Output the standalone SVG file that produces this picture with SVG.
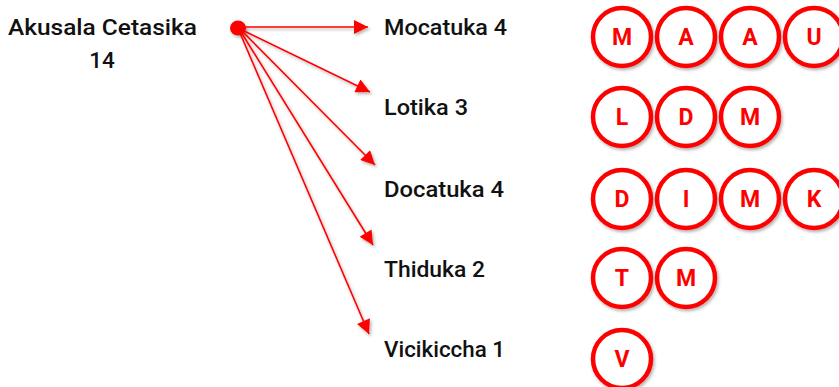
<svg xmlns="http://www.w3.org/2000/svg" width="839" height="387" viewBox="0 0 839 387">
  <style>
    .lbl { font-family: Roboto, "Liberation Sans", sans-serif; font-size: 22.5px; font-weight: 500; fill: #111; }
    .ring { fill: #fff; stroke: #ff0000; stroke-width: 4.5; filter: url(#shadow); }
    .ch { font-family: Roboto, "Liberation Sans", sans-serif; font-size: 23px; font-weight: bold; fill: #ff0000; text-anchor: middle; }
    .edge { stroke: #ff0000; stroke-width: 1.6; fill: none; marker-end: url(#head); }
  </style>
  <defs>
    <filter id="shadow" x="-20%" y="-20%" width="150%" height="150%">
      <feDropShadow dx="1.5" dy="2" stdDeviation="1.5" flood-color="#000" flood-opacity="0.3"/>
    </filter>
    <marker id="head" viewBox="0 0 10 10" refX="10" refY="5" markerWidth="16" markerHeight="14" markerUnits="userSpaceOnUse" orient="auto">
      <path d="M0,0 L10,5 L0,10 Z" fill="#ff0000"/>
    </marker>
  </defs>

  <g id="root">
    <text class="lbl" x="8" y="35" textLength="189" lengthAdjust="spacingAndGlyphs">Akusala Cetasika</text>
    <text class="lbl" x="102" y="68" text-anchor="middle">14</text>
    <ellipse cx="238" cy="28" rx="8" ry="7.5" fill="#ff0000" filter="url(#shadow)"/>
  </g>

  <g id="connectors" filter="url(#shadow)">
    <line class="edge" x1="240" y1="27" x2="368" y2="27"/>
    <line class="edge" x1="242" y1="30" x2="370" y2="92"/>
    <line class="edge" x1="242" y1="31" x2="375" y2="165"/>
    <line class="edge" x1="241" y1="32" x2="373" y2="245"/>
    <line class="edge" x1="240" y1="33" x2="369" y2="334"/>
  </g>

  <g id="mocatuka">
    <text class="lbl" x="384" y="34.5" textLength="123" lengthAdjust="spacingAndGlyphs">Mocatuka 4</text>
    <circle class="ring" cx="622" cy="37" r="29"/><text class="ch" x="622" y="45">M</text>
    <circle class="ring" cx="686" cy="37" r="29"/><text class="ch" x="686" y="45">A</text>
    <circle class="ring" cx="750" cy="37" r="29"/><text class="ch" x="750" y="45">A</text>
    <circle class="ring" cx="814" cy="37" r="29"/><text class="ch" x="814" y="45">U</text>
  </g>

  <g id="lotika">
    <text class="lbl" x="384" y="115" textLength="84" lengthAdjust="spacingAndGlyphs">Lotika 3</text>
    <circle class="ring" cx="622" cy="117" r="29"/><text class="ch" x="622" y="125">L</text>
    <circle class="ring" cx="686" cy="117" r="29"/><text class="ch" x="686" y="125">D</text>
    <circle class="ring" cx="750" cy="117" r="29"/><text class="ch" x="750" y="125">M</text>
  </g>

  <g id="docatuka">
    <text class="lbl" x="384" y="196.5" textLength="120" lengthAdjust="spacingAndGlyphs">Docatuka 4</text>
    <circle class="ring" cx="622" cy="199" r="29"/><text class="ch" x="622" y="207">D</text>
    <circle class="ring" cx="686" cy="199" r="29"/><text class="ch" x="686" y="207">I</text>
    <circle class="ring" cx="750" cy="199" r="29"/><text class="ch" x="750" y="207">M</text>
    <circle class="ring" cx="814" cy="199" r="29"/><text class="ch" x="814" y="207">K</text>
  </g>

  <g id="thiduka">
    <text class="lbl" x="384" y="276.5" textLength="101" lengthAdjust="spacingAndGlyphs">Thiduka 2</text>
    <circle class="ring" cx="622" cy="278" r="29"/><text class="ch" x="622" y="286">T</text>
    <circle class="ring" cx="686" cy="278" r="29"/><text class="ch" x="686" y="286">M</text>
  </g>

  <g id="vicikiccha">
    <text class="lbl" x="384" y="356.5" textLength="121" lengthAdjust="spacingAndGlyphs">Vicikiccha 1</text>
    <circle class="ring" cx="622" cy="359" r="29"/><text class="ch" x="622" y="367">V</text>
  </g>
</svg>
